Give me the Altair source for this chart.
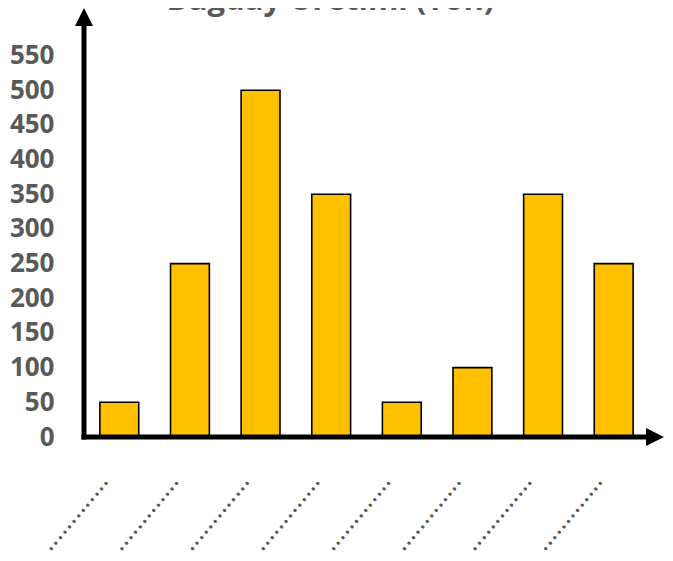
import altair as alt
import pandas as pd

categories = ["1", "2", "3", "4", "5", "6", "7", "8"]
values = [50, 250, 500, 350, 50, 100, 350, 250]
tick_label = "............."
y_ticks = [0, 50, 100, 150, 200, 250, 300, 350, 400, 450, 500, 550]
title_text = "Buğday Üretimi (Ton)"

df = pd.DataFrame({"cat": categories, "val": values})

W, H = 565, 429
gray = "#595959"
font = "Open Sans"

bars = alt.Chart(df).mark_bar(fill="#FFC000", stroke="#000000", strokeWidth=1.6).encode(
    x=alt.X("cat:N", sort=categories,
            scale=alt.Scale(paddingInner=0.45, paddingOuter=0.225),
            axis=alt.Axis(title=None, domain=False, ticks=False, grid=False,
                          labelExpr=f"'{tick_label}'", labelAngle=310,
                          labelAlign="right", labelBaseline="alphabetic",
                          labelPadding=44, labelOffset=-10,
                          labelFont=font, labelFontSize=27,
                          labelColor=gray)),
    y=alt.Y("val:Q", scale=alt.Scale(domain=[0, 618.6], nice=False, zero=True),
            axis=alt.Axis(title=None, domain=False, ticks=False, grid=False,
                          values=y_ticks, labelPadding=30,
                          labelFont=font, labelFontWeight="bold",
                          labelFontSize=26, labelColor=gray)),
)

one = alt.Data(values=[{"k": 1}])

vrule = alt.Chart(one).mark_rule(color="#000000", strokeWidth=5).encode(
    x=alt.value(0), y=alt.value(14), y2=alt.value(H + 2.5))
hrule = alt.Chart(one).mark_rule(color="#000000", strokeWidth=5).encode(
    x=alt.value(-2.5), x2=alt.value(566), y=alt.value(H))
up_arrow = alt.Chart(one).mark_point(shape="M0,-1L1,1L-1,1Z", filled=True, size=324,
                                     color="#000000", opacity=1, strokeWidth=0).encode(
    x=alt.value(0), y=alt.value(9))
right_arrow = alt.Chart(one).mark_point(shape="M1,0L-1,-1L-1,1Z", filled=True, size=324,
                                        color="#000000", opacity=1, strokeWidth=0).encode(
    x=alt.value(571), y=alt.value(H))

chart = alt.layer(bars, vrule, hrule, up_arrow, right_arrow).properties(
    width=W, height=H,
    title=alt.TitleParams(title_text, font=font, fontWeight="bold", fontSize=31,
                          color=gray, anchor="start", dx=157, dy=33, offset=0,
                          baseline="alphabetic"),
    autosize=alt.AutoSizeParams(type="none"),
    padding={"left": 76, "top": 0, "right": 16, "bottom": 116},
).configure_view(stroke=None)

chart.save("out.html", embed_options={"renderer": "svg", "actions": False})
